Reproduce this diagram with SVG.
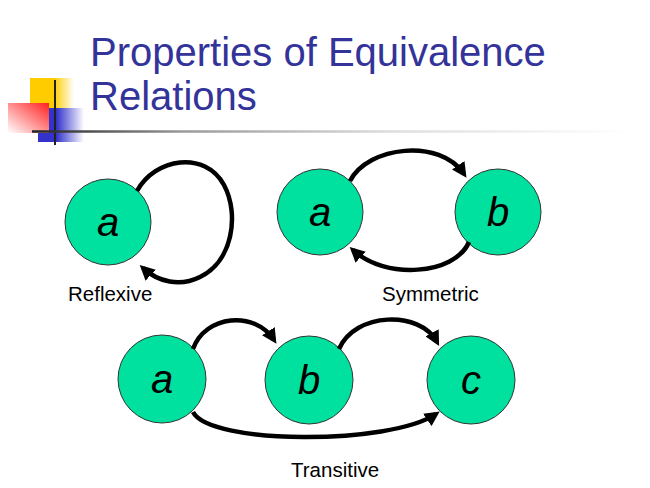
<svg xmlns="http://www.w3.org/2000/svg" width="650" height="488" viewBox="0 0 650 488">
<style>
.title{font-family:"Liberation Sans",Arial,sans-serif;font-size:40px;fill:#333399}
.cap{font-family:"Liberation Sans",Arial,sans-serif;font-size:20.5px;fill:#000}
.node circle{fill:#00e09e;stroke:#333;stroke-width:1}
.node text{font-family:"Liberation Sans",Arial,sans-serif;font-size:40px;font-style:italic;fill:#000;text-anchor:middle}
.edge{fill:none;stroke:#000;stroke-width:4.5;marker-end:url(#ah)}
</style>
<defs>
<marker id="ah" viewBox="0 0 10 10" refX="7" refY="5" markerWidth="15" markerHeight="15" markerUnits="userSpaceOnUse" orient="auto">
<path d="M0,0 L10,5 L0,10 z" fill="#000"/>
</marker>
<linearGradient id="gy" x1="0" y1="0" x2="1" y2="0">
<stop offset="0" stop-color="#ffcc00"/><stop offset="0.55" stop-color="#ffcc00"/><stop offset="1" stop-color="#ffcc00" stop-opacity="0"/>
</linearGradient>
<linearGradient id="gb" x1="0" y1="0" x2="1" y2="0">
<stop offset="0" stop-color="#3333cc"/><stop offset="0.4" stop-color="#3333cc"/><stop offset="1" stop-color="#3333cc" stop-opacity="0"/>
</linearGradient>
<linearGradient id="gr" x1="1" y1="0" x2="0" y2="1">
<stop offset="0" stop-color="#ff2020"/><stop offset="1" stop-color="#ffffff"/>
</linearGradient>
<linearGradient id="gl" gradientUnits="userSpaceOnUse" x1="32" y1="0" x2="630" y2="0">
<stop offset="0" stop-color="#222"/><stop offset="0.25" stop-color="#999"/><stop offset="0.6" stop-color="#ddd"/><stop offset="1" stop-color="#fff"/>
</linearGradient>
</defs>
<g id="decoration">
<rect x="30" y="78" width="44" height="30" fill="url(#gy)"/>
<rect x="38" y="108" width="46" height="34" fill="url(#gb)"/>
<rect x="8" y="103" width="41" height="30" fill="url(#gr)"/>
<line x1="55" y1="80" x2="55" y2="145" stroke="#222" stroke-width="2"/>
<line x1="32" y1="131.5" x2="650" y2="131.5" stroke="url(#gl)" stroke-width="2.5"/>
</g>
<g id="title">
<text class="title" x="90" y="66">Properties of Equivalence</text>
<text class="title" x="90" y="110">Relations</text>
</g>
<g id="ref-a" class="node"><circle cx="108" cy="222" r="43"/><text x="108" y="236">a</text></g>
<g id="sym-a" class="node"><circle cx="320" cy="212" r="43"/><text x="320" y="226">a</text></g>
<g id="sym-b" class="node"><circle cx="498" cy="212" r="43"/><text x="498" y="226">b</text></g>
<g id="tr-a" class="node"><circle cx="162" cy="379" r="44"/><text x="162" y="393">a</text></g>
<g id="tr-b" class="node"><circle cx="309" cy="380" r="44"/><text x="309" y="394">b</text></g>
<g id="tr-c" class="node"><circle cx="471" cy="380" r="44"/><text x="471" y="394">c</text></g>
<g id="connectors">
<path class="edge" d="M137,191 C155,158 205,150 224,185 C240,215 232,262 200,277 C180,287 158,282 143,268"/>
<path class="edge" d="M350,181 C368,146 440,138 464,174"/>
<path class="edge" d="M469,242 C455,275 385,280 353,250"/>
<path class="edge" d="M193,349 C205,315 255,310 274,340"/>
<path class="edge" d="M339,349 C355,312 420,310 437,342"/>
<path class="edge" d="M193,412 C210,445 390,445 436,414"/>
</g>
<g id="labels">
<text class="cap" x="68" y="301">Reflexive</text>
<text class="cap" x="382" y="301">Symmetric</text>
<text class="cap" x="291" y="477">Transitive</text>
</g>
</svg>
